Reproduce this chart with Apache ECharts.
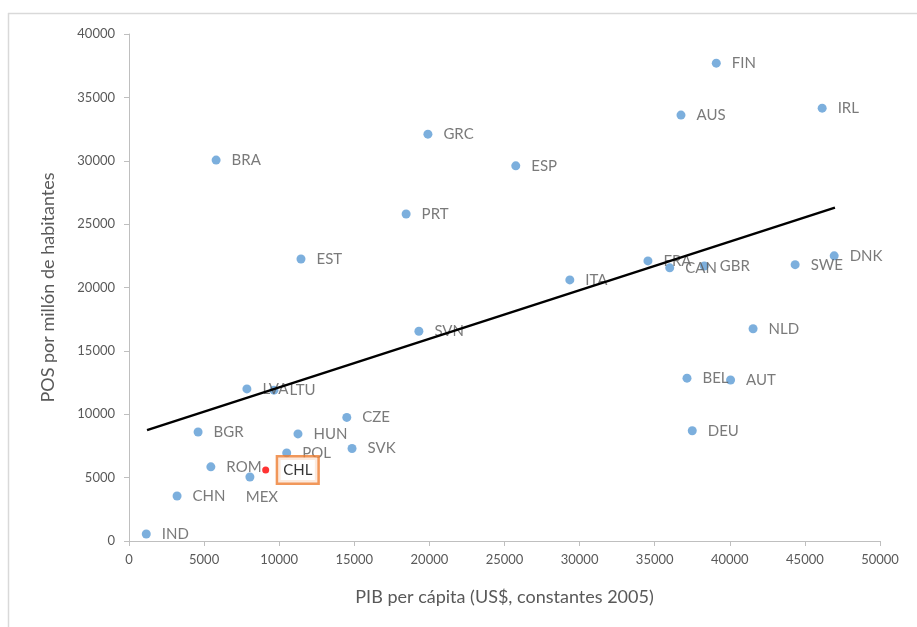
<!DOCTYPE html>
<html>
<head>
<meta charset="utf-8">
<script src="https://cdn.jsdelivr.net/npm/echarts@6/dist/echarts.min.js"></script>
<style>
  html, body { margin: 0; padding: 0; background: #fff; }
  #chart { width: 917px; height: 627px; }
</style>
</head>
<body>
<div id="chart"></div>
<script>
// datos
const countries = ['FIN', 'AUS', 'IRL', 'GRC', 'BRA', 'ESP', 'PRT', 'EST', 'FRA', 'CAN', 'GBR', 'SWE', 'DNK', 'ITA', 'SVN', 'NLD', 'BEL', 'AUT', 'LVA', 'LTU', 'CZE', 'BGR', 'HUN', 'SVK', 'DEU', 'POL', 'ROM', 'CHL', 'MEX', 'CHN', 'IND']
const pib = [39100, 36750, 46150, 19900, 5800, 25750, 18450, 11450, 34550, 36000, 38300, 44350, 46950, 29350, 19300, 41550, 37150, 40050, 7850, 9650, 14500, 4600, 11250, 14850, 37500, 10500, 5450, 9100, 8050, 3200, 1150]
const pos = [37700, 33600, 34150, 32100, 30050, 29600, 25800, 22250, 22100, 21550, 21700, 21800, 22500, 20600, 16550, 16750, 12850, 12700, 12000, 11900, 9750, 8600, 8450, 7300, 8700, 6950, 5850, 5600, 5050, 3550, 550]
const trendX = [1200, 47000]
const trendY = [8750, 26300]
const xTicks = [0, 5000, 10000, 15000, 20000, 25000, 30000, 35000, 40000, 45000, 50000]
const yTicks = [0, 5000, 10000, 15000, 20000, 25000, 30000, 35000, 40000]
const highlight = 'CHL'

const font = 'Lato, "Open Sans", sans-serif'
const gray = '#595959'

const points = countries.map((c, i) => {
    const item = { name: c, value: [pib[i], pos[i]] }
    if (c === highlight) {
        item.symbolSize = 7
        item.itemStyle = { color: '#ff0000' }
        item.label = {
            color: '#000', fontSize: 15, distance: 9,
            borderColor: '#ED7D31', borderWidth: 2.5, borderRadius: 0,
            padding: [6, 5, 4, 5], backgroundColor: '#fff'
        }
    }
    if (c === 'MEX') {
        item.label = { position: 'bottom', offset: [12, -3] }
    }
    return item
})

const echart = echarts.init(document.getElementById('chart'))
echart.setOption({
    animation: false,
    backgroundColor: '#fff',
    textStyle: { fontFamily: font },
    grid: { left: 129, top: 34, right: 37, bottom: 86 },
    graphic: [
        { type: 'line', shape: { x1: 8, y1: 13.5, x2: 917, y2: 13.5 }, style: { stroke: '#d9d9d9', lineWidth: 1.5 } },
        { type: 'line', shape: { x1: 8.5, y1: 13, x2: 8.5, y2: 627 }, style: { stroke: '#d9d9d9', lineWidth: 1.5 } }
    ],
    xAxis: {
        type: 'value',
        min: xTicks[0], max: xTicks[xTicks.length - 1], interval: 5000,
        name: 'PIB per cápita (US$, constantes 2005)',
        nameLocation: 'middle', nameGap: 47,
        nameTextStyle: { color: gray, fontSize: 18, fontFamily: font },
        axisLine: { lineStyle: { color: '#bfbfbf' } },
        axisTick: { show: true, length: 5, lineStyle: { color: '#bfbfbf' } },
        axisLabel: { color: gray, fontSize: 13, margin: 12, formatter: v => String(v) },
        splitLine: { show: false }
    },
    yAxis: {
        type: 'value',
        min: yTicks[0], max: yTicks[yTicks.length - 1], interval: 5000,
        name: 'POS por millón de habitantes',
        nameLocation: 'middle', nameGap: 72,
        nameTextStyle: { color: gray, fontSize: 18, fontFamily: font },
        axisLine: { show: true, lineStyle: { color: '#bfbfbf' } },
        axisTick: { show: true, length: 5, lineStyle: { color: '#bfbfbf' } },
        axisLabel: { color: gray, fontSize: 13, margin: 14, formatter: v => String(v) },
        splitLine: { show: false }
    },
    series: [
        {
            type: 'scatter',
            symbolSize: 9,
            itemStyle: { color: '#5B9BD5' },
            label: {
                show: true, position: 'right', distance: 11,
                formatter: '{b}', color: gray, fontSize: 15, fontFamily: font
            },
            data: points
        },
        {
            type: 'line',
            symbol: 'none',
            lineStyle: { color: '#000', width: 2.5 },
            data: trendX.map((x, i) => [x, trendY[i]]),
            z: 3
        }
    ]
})
</script>
</body>
</html>
